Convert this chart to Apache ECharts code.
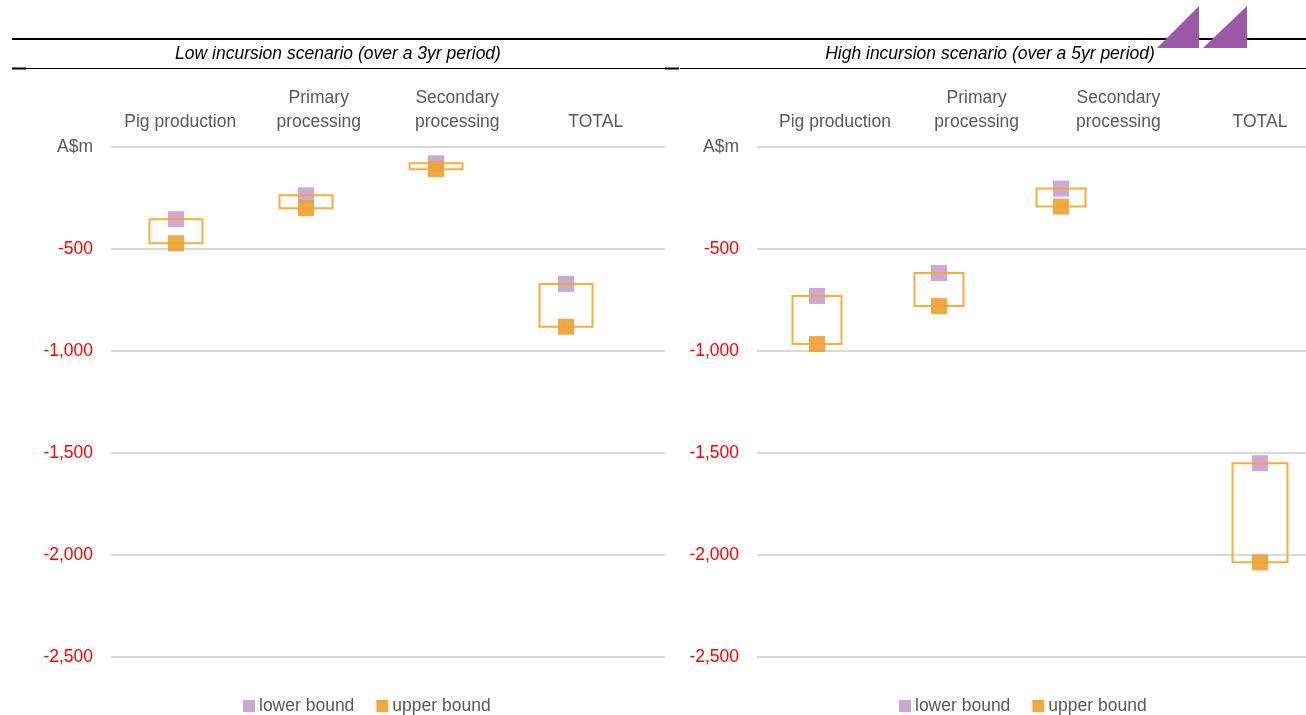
<!DOCTYPE html>
<html>
<head>
<meta charset="utf-8">
<title>Pig industry losses by scenario</title>
<script src="https://cdn.jsdelivr.net/npm/echarts@6/dist/echarts.min.js"></script>
<style>
  html, body { margin: 0; padding: 0; background: #ffffff; }
  #chart { width: 1306px; height: 715px; }
</style>
</head>
<body>
<div id="chart"></div>
<script>
// Sector categories shown across each panel
const categories = ['Pig production', 'Primary\nprocessing', 'Secondary\nprocessing', 'TOTAL'];

// Value axis (A$m)
const yMin = -2500;
const yMax = 0;
const yStep = 500;
const unitLabel = 'A$m';

// Panel titles and legend names
const panelTitles = ['Low incursion scenario (over a 3yr period)', 'High incursion scenario (over a 5yr period)'];
const seriesNames = ['lower bound', 'upper bound'];

// Low incursion scenario, A$m
const lowLower = [-354, -237, -80, -671];
const lowUpper = [-472, -300, -109, -881];

// High incursion scenario, A$m
const highLower = [-730, -618, -204, -1550];
const highUpper = [-966, -780, -292, -2036];

const FONT = "'Liberation Sans', Arial, sans-serif";
const FS = 17.5;
const GREY = '#595959';
const PURPLE = '#CBA9D4';
const ORANGE = '#EDA135';
const BOX = '#F9A428';

const fmt = v => v === 0 ? unitLabel : v.toLocaleString('en-US');

function boxData(lower, upper) {
  // candlestick item: [open, close, lowest, highest]
  return lower.map((l, i) => [l, upper[i], Math.min(l, upper[i]), Math.max(l, upper[i])]);
}

const gridTop = 147;
const gridHeight = 510;

const grids = [
  { left: 111, top: gridTop, width: 554, height: gridHeight },   // 0 left: gridlines + labels
  { left: 111, top: gridTop, width: 520, height: gridHeight },   // 1 left: marks
  { left: 757, top: gridTop, width: 549, height: gridHeight },   // 2 right: gridlines
  { left: 835, top: gridTop, width: 425, height: gridHeight },   // 3 right: labels
  { left: 756, top: gridTop, width: 366, height: gridHeight },   // 4 right: sector marks
  { left: 1230, top: gridTop, width: 60, height: gridHeight }    // 5 right: total marks
];

const hiddenCat = (gridIndex, data) => ({
  type: 'category', gridIndex, data, show: false, boundaryGap: true
});
const labelCat = (gridIndex, gap) => ({
  type: 'category', gridIndex, data: categories, position: 'top', boundaryGap: gap,
  axisLine: { show: false }, axisTick: { show: false },
  axisLabel: { interval: 0, color: GREY, fontFamily: FONT, fontSize: FS, lineHeight: 24, margin: 13 }
});
const shownValue = (gridIndex) => ({
  type: 'value', gridIndex, min: yMin, max: yMax, interval: yStep,
  axisLine: { show: false }, axisTick: { show: false },
  splitLine: { show: true, lineStyle: { color: '#D9D9D9', width: 2 } },
  axisLabel: {
    margin: 18, fontFamily: FONT, fontSize: FS,
    formatter: fmt,
    color: (v) => Number(v) === 0 ? GREY : '#FF0000'
  }
});
const hiddenValue = (gridIndex) => ({
  type: 'value', gridIndex, min: yMin, max: yMax, interval: yStep, show: false,
  splitLine: { show: false }
});

const xAxes = [
  labelCat(0, true),
  hiddenCat(1, categories),
  hiddenCat(2, categories),
  labelCat(3, false),
  hiddenCat(4, categories.slice(0, 3)),
  hiddenCat(5, categories.slice(3))
];
const yAxes = [
  shownValue(0),
  hiddenValue(1),
  shownValue(2),
  hiddenValue(3),
  hiddenValue(4),
  hiddenValue(5)
];

function markSeries(axis, lower, upper, boxWidth) {
  return [
    {
      name: seriesNames[0], type: 'scatter', xAxisIndex: axis, yAxisIndex: axis,
      symbol: 'rect', symbolSize: 16, z: 2, silent: true,
      itemStyle: { color: PURPLE, opacity: 1 },
      data: lower
    },
    {
      name: seriesNames[1], type: 'scatter', xAxisIndex: axis, yAxisIndex: axis,
      symbol: 'rect', symbolSize: 16, z: 3, silent: true,
      itemStyle: { color: ORANGE, opacity: 0.92 },
      data: upper
    },
    {
      type: 'candlestick', xAxisIndex: axis, yAxisIndex: axis, z: 4, silent: true,
      barWidth: boxWidth,
      itemStyle: {
        color: 'rgba(0,0,0,0)', color0: 'rgba(0,0,0,0)',
        borderColor: BOX, borderColor0: BOX, borderWidth: 2, opacity: 0.9
      },
      data: boxData(lower, upper)
    }
  ];
}

const series = [].concat(
  markSeries(1, lowLower, lowUpper, 54),
  markSeries(4, highLower.slice(0, 3), highUpper.slice(0, 3), 50),
  markSeries(5, highLower.slice(3), highUpper.slice(3), 56)
);

const legendBase = {
  top: 692, icon: 'rect', itemWidth: 12, itemHeight: 12, itemGap: 22,
  selectedMode: false,
  textStyle: { color: GREY, fontFamily: FONT, fontSize: FS, padding: [0, 0, 0, -1] },
  data: seriesNames
};

const line = (x1, y1, x2, y2, w) => ({
  type: 'line', silent: true,
  shape: { x1, y1, x2, y2 },
  style: { stroke: '#000000', lineWidth: w }
});

const title = (text, x) => ({
  type: 'text', x, y: 54, silent: true,
  style: {
    text, align: 'center', verticalAlign: 'middle',
    fill: '#000000', font: 'italic ' + FS + 'px ' + FONT
  }
});

const graphics = [
  // header rules
  line(12, 39, 1306, 39, 2),
  line(12, 68.5, 679, 68.5, 1),
  line(12, 68.5, 26, 68.5, 2),
  line(665, 68.5, 679, 68.5, 2),
  line(680, 68.5, 1306, 68.5, 1),
  // panel titles
  title(panelTitles[0], 338),
  title(panelTitles[1], 990),
  // corner mark
  {
    type: 'polygon', silent: true, z: 10,
    shape: { points: [[1157, 48], [1199, 6], [1199, 48]] },
    style: { fill: '#9B58A7' }
  },
  {
    type: 'polygon', silent: true, z: 10,
    shape: { points: [[1203, 48], [1247, 6], [1247, 48]] },
    style: { fill: '#9B58A7' }
  }
];

const chart = echarts.init(document.getElementById('chart'), null, { renderer: 'canvas' });
chart.setOption({
  animation: false,
  backgroundColor: '#ffffff',
  grid: grids,
  xAxis: xAxes,
  yAxis: yAxes,
  legend: [
    Object.assign({}, legendBase, { left: 238 }),
    Object.assign({}, legendBase, { left: 894 })
  ],
  graphic: graphics,
  series: series
});
</script>
</body>
</html>
